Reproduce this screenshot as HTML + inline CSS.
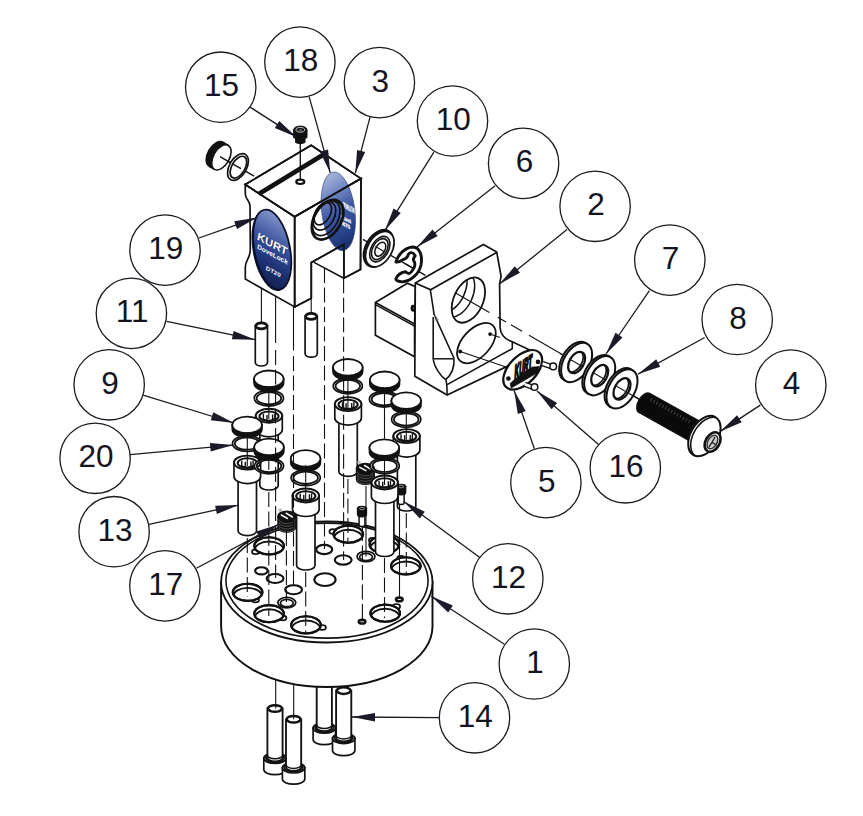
<!DOCTYPE html>
<html><head><meta charset="utf-8"><title>Exploded view</title>
<style>html,body{margin:0;padding:0;background:#fff}svg{display:block;font-family:"Liberation Sans",Arial,sans-serif}</style>
</head><body>
<svg width="863" height="816" viewBox="0 0 863 816">
<rect width="863" height="816" fill="#fff"/>
<defs>
<linearGradient id="g19" x1="0.7" y1="0" x2="0.3" y2="1">
<stop offset="0" stop-color="#8c9ccc"/><stop offset="0.2" stop-color="#6278b6"/><stop offset="0.45" stop-color="#334c98"/><stop offset="0.75" stop-color="#1b2e6c"/><stop offset="1" stop-color="#132052"/></linearGradient>
<linearGradient id="g18" x1="0.4" y1="0" x2="0.6" y2="1">
<stop offset="0" stop-color="#a9b6da"/><stop offset="0.2" stop-color="#7f93c8"/><stop offset="0.5" stop-color="#3f5aa6"/><stop offset="0.8" stop-color="#263f88"/><stop offset="1" stop-color="#1a2c68"/></linearGradient>
</defs>
<path d="M245.3 184.5 L245.3 194 C245.6 200 249.8 200 250 206 L250.3 250.5 C250 258 245.5 260 245.3 267 L245.3 279.1 L294.7 306.9 L294.7 216.8 Z" fill="#fff" stroke="#111" stroke-width="1.68" />
<path d="M245.3 184.5 L311.2 145.2 L361 178.6 L294.7 216.8 Z" fill="#fff" stroke="#111" stroke-width="1.68" />
<path d="M294.7 216.8 L361 178.6 L360.5 269.5 L343.9 278.2 L343.9 244.3 L311.3 262.6 L311.3 298.2 L294.7 306.9 Z" fill="#fff" stroke="#111" stroke-width="1.68" />
<g transform="rotate(-7.3 338.3 211.3)"><ellipse cx="338.3" cy="211.3" rx="16.6" ry="39.6" fill="url(#g18)" stroke="#2a3f80" stroke-width="0.6"/></g>
<g fill="#fff" stroke="#fff" stroke-width="0.35" font-weight="bold" font-style="italic"><text transform="translate(354.6,213.6) skewY(28) scale(-1,1)" font-size="7.5" textLength="11.5" lengthAdjust="spacingAndGlyphs">KURT</text><text transform="translate(351,223.6) skewY(28) scale(-1,1)" font-size="5" textLength="10" lengthAdjust="spacingAndGlyphs">DoveLock</text><text transform="translate(350,229) skewY(28) scale(-1,1)" font-size="5" textLength="8.5" lengthAdjust="spacingAndGlyphs">DT20</text></g>
<path d="M294.7 216.8 L361 178.6 L360.5 269.5 L343.9 278.2 L343.9 244.3 L311.3 262.6 L311.3 298.2 L294.7 306.9 Z" fill="none" stroke="#111" stroke-width="1.68" />
<path d="M314 262.4 L343.9 278.2" fill="none" stroke="#111" stroke-width="1.57" />
<path d="M245.3 184.5 L311.2 145.2 L361 178.6 L294.7 216.8 Z" fill="none" stroke="#111" stroke-width="1.68" />
<path d="M258.8 193.9 L325.2 153.4" fill="none" stroke="#111" stroke-width="4.7" />
<ellipse cx="300.3" cy="181.8" rx="4" ry="2.2" fill="none" stroke="#111" stroke-width="2.24" />
<path d="M300.3 143 L300.3 180" fill="none" stroke="#111" stroke-width="1.34" />
<path d="M293.6 130 L293.6 137.6 Q300.3 141.5 307 137.6 L307 130 Z" fill="#111" stroke="#111" stroke-width="1"/>
<path d="M295.6 137 L295.6 142.6 Q300.3 145 305 142.6 L305 137 Z" fill="#111" stroke="#111" stroke-width="1"/>
<ellipse cx="300.3" cy="130" rx="6.7" ry="3.9" fill="#111" stroke="#111" stroke-width="1" />
<ellipse cx="300.3" cy="129.8" rx="4.3" ry="2.3" fill="#111" stroke="#ddd" stroke-width="0.9" />
<ellipse cx="300.3" cy="130" rx="2.2" ry="1.1" fill="#555" stroke="none" stroke-width="0" />
<ellipse cx="327.6" cy="219.7" rx="13.4" ry="21.5" fill="none" stroke="#111" stroke-width="2.69" transform="rotate(30 327.6 219.7)" />
<ellipse cx="326.1" cy="218.2" rx="11.7" ry="18.9" fill="none" stroke="#111" stroke-width="1.68" transform="rotate(30 326.1 218.2)" />
<ellipse cx="324.4" cy="215.9" rx="9.8" ry="15.3" fill="none" stroke="#111" stroke-width="1.68" transform="rotate(30 324.4 215.9)" />
<ellipse cx="322.8" cy="213.7" rx="7.3" ry="12.2" fill="none" stroke="#111" stroke-width="1.68" transform="rotate(30 322.8 213.7)" />
<g transform="rotate(-11 272.8 249.5)"><ellipse cx="271.3" cy="250" rx="18.0" ry="40.8" fill="#0c1230" stroke="#0c1230" stroke-width="1.2"/><ellipse cx="272.2" cy="249.5" rx="17.8" ry="40.6" fill="url(#g19)" stroke="#0a0f28" stroke-width="1.7"/></g>
<g font-weight="bold" font-style="italic"><g fill="#0c1230" opacity="0.8"><text transform="translate(257.8,240.4) skewY(28)" font-size="11.5" textLength="30" lengthAdjust="spacingAndGlyphs">KURT</text></g><g fill="#fff"><text transform="translate(257.2,239.8) skewY(28)" font-size="11.5" textLength="30" lengthAdjust="spacingAndGlyphs">KURT</text><text transform="translate(257.2,248.6) skewY(28)" font-size="7" textLength="30.5" lengthAdjust="spacingAndGlyphs">DoveLock</text><text transform="translate(265.8,269.8) skewY(28)" font-size="6" textLength="14.7" lengthAdjust="spacingAndGlyphs">DT20</text></g></g>
<path d="M220 156.7 L254.1 176.2" fill="none" stroke="#111" stroke-width="1.34" />
<ellipse cx="215.9" cy="154.2" rx="7.9" ry="13.8" fill="#111" stroke="#111" stroke-width="1.57" transform="rotate(30 215.9 154.2)" />
<path d="M228.3 145.4 L222.8 142.2 L209 166.2 L214.5 169.4" fill="#111" stroke="none" stroke-width="0" />
<path d="M228.3 145.4 L222.8 142.2" fill="none" stroke="#111" stroke-width="1.57" />
<path d="M214.5 169.4 L209 166.2" fill="none" stroke="#111" stroke-width="1.57" />
<ellipse cx="221.4" cy="157.4" rx="7.9" ry="13.8" fill="#fff" stroke="#111" stroke-width="1.57" transform="rotate(30 221.4 157.4)" />
<path d="M220 156.7 L232 163.6" fill="none" stroke="#111" stroke-width="1.34" />
<ellipse cx="238" cy="167" rx="8.6" ry="14.6" fill="#fff" stroke="#111" stroke-width="1.68" transform="rotate(30 238 167)" />
<ellipse cx="238.4" cy="167.2" rx="6.6" ry="12" fill="#fff" stroke="#111" stroke-width="1.68" transform="rotate(30 238.4 167.2)" />
<path d="M232 163.6 L241 168.7" fill="none" stroke="#111" stroke-width="1.34" />
<path d="M362.9 239.3 L425.4 275.4" fill="none" stroke="#111" stroke-width="1.34" />
<ellipse cx="378.6" cy="248.4" rx="12.6" ry="19.8" fill="#fff" stroke="#111" stroke-width="2.46" transform="rotate(30 378.6 248.4)" />
<ellipse cx="379.8" cy="249.1" rx="12.2" ry="19.2" fill="#fff" stroke="#111" stroke-width="1.68" transform="rotate(30 379.8 249.1)" />
<ellipse cx="379.8" cy="249.1" rx="8.6" ry="13.8" fill="none" stroke="#111" stroke-width="1.57" transform="rotate(30 379.8 249.1)" />
<ellipse cx="379.8" cy="249.1" rx="7" ry="11.4" fill="none" stroke="#111" stroke-width="1.57" transform="rotate(30 379.8 249.1)" />
<ellipse cx="380.3" cy="249.2" rx="4.6" ry="7.6" fill="none" stroke="#111" stroke-width="1.57" transform="rotate(30 380.3 249.2)" />
<path d="M375.5 246.6 L384.5 251.8" fill="none" stroke="#111" stroke-width="1.1" />
<path d="M396 261.8 C398.6 253.9 405 247.4 412.9 247 C419.9 247.4 422.7 255.8 421 265 C418.9 274.3 410.6 281.3 402.3 281.9 C398.6 281.9 395.8 280.3 395.8 278.9 C397.2 275.2 401.3 272.5 405.5 271.7 C408.3 274.3 410.6 274.3 412.9 269.7 C415.2 266.9 415.2 263.2 414.3 261.8 C412 259.5 414.3 257.2 415.2 255.8 C413.4 252.1 409.7 251.6 408.3 254.4 C407.8 256.7 406.9 258.6 403.2 259.5 C400.4 261.3 397.6 263.2 396 261.8 Z" fill="#fff" stroke="#111" stroke-width="2.91" />
<path d="M398.6 261.3 C401.3 254.9 406.9 249.8 412.9 249.3 C418 249.8 420.3 256.7 418.9 264.6 C417.1 272.5 410.6 278.5 403.2 279.9" fill="none" stroke="none" stroke-width="0" />
<path d="M404.5 263.3 L414 268.8" fill="none" stroke="#111" stroke-width="1.1" />
<path d="M375.4 302.5 L407.4 283.3 L415.5 286.6 L414.6 324.1 L414.6 356.8 L375.4 335.2 Z" fill="#fff" stroke="#111" stroke-width="1.68" />
<path d="M375.4 302.5 L414.6 324.1" fill="none" stroke="#111" stroke-width="1.68" />
<path d="M375.4 304.7 L414.6 326.2" fill="none" stroke="#111" stroke-width="1.46" />
<ellipse cx="413.2" cy="308.2" rx="1.4" ry="2.2" fill="none" stroke="#111" stroke-width="2.46" />
<path d="M415.3 283 L483.4 244.5 L496.7 252 L501.1 276.3 L499.6 283.7 L500.1 327.8 C500.6 334.8 505.4 339.6 512.3 341.7 L529.7 350.1 L529.7 355.6 L447.1 395 L414.8 376.2 Z" fill="#fff" stroke="#111" stroke-width="1.68" />
<path d="M415.3 283 L430.6 289.7 L496.7 252.4" fill="none" stroke="#111" stroke-width="1.68" />
<path d="M430.6 289.7 L430.4 290 L434.1 314.3 L454 358.2" fill="none" stroke="#111" stroke-width="1.57" />
<path d="M433.2 317.1 L433.2 359.5" fill="none" stroke="#111" stroke-width="1.57" />
<path d="M433.2 358.8 L453.5 358.8" fill="none" stroke="#111" stroke-width="1.46" />
<path d="M433.2 359.5 C434.5 367.9 440.8 376.2 445.7 379.7 C446.8 381.8 447.1 383.2 447.1 395" fill="none" stroke="#111" stroke-width="1.57" />
<path d="M454 358.2 C454.7 367.9 450.5 375.5 445.7 379.7" fill="none" stroke="#111" stroke-width="1.57" />
<path d="M433.6 317.1 L435.2 315.7 L438.4 319.9 L433.6 319.9" fill="none" stroke="#888" stroke-width="0.8" />
<path d="M447.1 384.6 L512.3 348.7" fill="none" stroke="#111" stroke-width="1.57" />
<path d="M512.3 341.7 L512.3 349" fill="none" stroke="#111" stroke-width="1.57" />
<clipPath id="ch1"><ellipse cx="468.4" cy="300.1" rx="14.6" ry="24" transform="rotate(25 468.4 300.1)"/></clipPath>
<g clip-path="url(#ch1)">
<ellipse cx="458" cy="294.3" rx="14.6" ry="24" fill="none" stroke="#111" stroke-width="1.46" transform="rotate(25 458 294.3)" />
<ellipse cx="450.4" cy="289.7" rx="14.6" ry="24" fill="none" stroke="#111" stroke-width="1.46" transform="rotate(25 450.4 289.7)" />
</g>
<ellipse cx="468.4" cy="300.1" rx="14.6" ry="24" fill="none" stroke="#111" stroke-width="1.79" transform="rotate(25 468.4 300.1)" />
<path d="M455.6 292.9 L489.4 312.4" fill="none" stroke="#111" stroke-width="1.1" />
<path d="M497.7 317.2 L506.1 322.1" fill="none" stroke="#111" stroke-width="1.1" />
<path d="M510.9 324.8 L522.1 331.3" fill="none" stroke="#111" stroke-width="1.1" />
<path d="M529 335.3 L640 399.5" fill="none" stroke="#111" stroke-width="1.1" />
<ellipse cx="476.4" cy="343.1" rx="24.2" ry="13.9" fill="none" stroke="#111" stroke-width="1.79" transform="rotate(-47.4 476.4 343.1)" />
<circle cx="490.1" cy="334.1" r="1.9" fill="#111"/><circle cx="460.2" cy="351.5" r="1.9" fill="#111"/>
<path d="M460.2 351.5 L506 367" fill="none" stroke="#111" stroke-width="1.1" />
<path d="M490.1 334.1 L500 337.6" fill="none" stroke="#111" stroke-width="1.1" />
<ellipse cx="522.7" cy="369.8" rx="24" ry="13.8" fill="#fff" stroke="#111" stroke-width="2.24" transform="rotate(-46 522.7 369.8)" />
<text transform="translate(514.6,379.6) skewY(-33)" font-size="20" font-weight="bold" font-style="italic" fill="#111" stroke="#111" stroke-width="2.6" stroke-linejoin="round" textLength="17.5" lengthAdjust="spacingAndGlyphs">KURT</text>
<path d="M510.2 383.4 L515.3 378.9 L531.7 367.2 L539.3 366.6 L537.3 372.8 L511.2 388 Z" fill="#111" stroke="#111" stroke-width="0.8" />
<circle cx="538" cy="361.9" r="2.3" fill="#111"/><circle cx="508.4" cy="378.5" r="2.3" fill="#111"/>
<line x1="542.6" y1="363.6" x2="552" y2="366.9" stroke="#111" stroke-width="5.4" stroke-linecap="butt"/>
<line x1="542.6" y1="363.6" x2="552" y2="366.9" stroke="#fff" stroke-width="2.8" stroke-linecap="butt"/>
<circle cx="553.2" cy="366.4" r="3.3" fill="#fff" stroke="#111" stroke-width="1.5"/>
<line x1="524.8" y1="384.3" x2="533" y2="387.4" stroke="#111" stroke-width="5.4" stroke-linecap="butt"/>
<line x1="524.8" y1="384.3" x2="533" y2="387.4" stroke="#fff" stroke-width="2.8" stroke-linecap="butt"/>
<circle cx="534.5" cy="387.0" r="3.3" fill="#fff" stroke="#111" stroke-width="1.5"/>
<ellipse cx="574.7" cy="361.4" rx="13" ry="21.4" fill="#fff" stroke="#111" stroke-width="2.02" transform="rotate(30 574.7 361.4)" />
<path d="M587.3 344 L585.4 342.9 L564 379.9 L565.9 381" fill="#fff" stroke="none" stroke-width="0" />
<path d="M587.3 344 L585.4 342.9" fill="none" stroke="#111" stroke-width="2.02" />
<path d="M565.9 381 L564 379.9" fill="none" stroke="#111" stroke-width="2.02" />
<ellipse cx="576.6" cy="362.5" rx="13" ry="21.4" fill="#fff" stroke="#111" stroke-width="2.02" transform="rotate(30 576.6 362.5)" />
<clipPath id="wc576"><ellipse cx="576.6" cy="362.5" rx="7.2" ry="11.6" transform="rotate(30 576.6 362.5)"/></clipPath>
<g clip-path="url(#wc576)">
<ellipse cx="574.7" cy="361.4" rx="7.2" ry="11.6" fill="none" stroke="#111" stroke-width="1.68" transform="rotate(30 574.7 361.4)" />
<path d="M564.6 356.2 L588.6 370.1" fill="none" stroke="#111" stroke-width="1.1" />
</g>
<ellipse cx="576.6" cy="362.5" rx="7.2" ry="11.6" fill="none" stroke="#111" stroke-width="2.24" transform="rotate(30 576.6 362.5)" />
<ellipse cx="597.8" cy="374.6" rx="13" ry="21.4" fill="#fff" stroke="#111" stroke-width="2.02" transform="rotate(30 597.8 374.6)" />
<path d="M610.4 357.2 L608.5 356.1 L587.1 393.1 L589 394.2" fill="#fff" stroke="none" stroke-width="0" />
<path d="M610.4 357.2 L608.5 356.1" fill="none" stroke="#111" stroke-width="2.02" />
<path d="M589 394.2 L587.1 393.1" fill="none" stroke="#111" stroke-width="2.02" />
<ellipse cx="599.7" cy="375.7" rx="13" ry="21.4" fill="#fff" stroke="#111" stroke-width="2.02" transform="rotate(30 599.7 375.7)" />
<clipPath id="wc599"><ellipse cx="599.7" cy="375.7" rx="7.2" ry="11.6" transform="rotate(30 599.7 375.7)"/></clipPath>
<g clip-path="url(#wc599)">
<ellipse cx="597.8" cy="374.6" rx="7.2" ry="11.6" fill="none" stroke="#111" stroke-width="1.68" transform="rotate(30 597.8 374.6)" />
<path d="M587.7 369.5 L611.7 383.4" fill="none" stroke="#111" stroke-width="1.1" />
</g>
<ellipse cx="599.7" cy="375.7" rx="7.2" ry="11.6" fill="none" stroke="#111" stroke-width="2.24" transform="rotate(30 599.7 375.7)" />
<ellipse cx="620.1" cy="387.8" rx="13" ry="21.4" fill="#fff" stroke="#111" stroke-width="2.02" transform="rotate(30 620.1 387.8)" />
<path d="M632.7 370.4 L630.8 369.3 L609.4 406.3 L611.3 407.4" fill="#fff" stroke="none" stroke-width="0" />
<path d="M632.7 370.4 L630.8 369.3" fill="none" stroke="#111" stroke-width="2.02" />
<path d="M611.3 407.4 L609.4 406.3" fill="none" stroke="#111" stroke-width="2.02" />
<ellipse cx="622" cy="388.9" rx="13" ry="21.4" fill="#fff" stroke="#111" stroke-width="2.02" transform="rotate(30 622 388.9)" />
<clipPath id="wc622"><ellipse cx="622.0" cy="388.9" rx="7.2" ry="11.6" transform="rotate(30 622.0 388.9)"/></clipPath>
<g clip-path="url(#wc622)">
<ellipse cx="620.1" cy="387.8" rx="7.2" ry="11.6" fill="none" stroke="#111" stroke-width="1.68" transform="rotate(30 620.1 387.8)" />
<path d="M610 382.4 L634 396.3" fill="none" stroke="#111" stroke-width="1.1" />
</g>
<ellipse cx="622" cy="388.9" rx="7.2" ry="11.6" fill="none" stroke="#111" stroke-width="2.24" transform="rotate(30 622 388.9)" />
<path d="M560 353.5 L562 354.7" fill="none" stroke="#111" stroke-width="1.1" />
<path d="M629 393.4 L642 400.9" fill="none" stroke="#111" stroke-width="1.1" />
<ellipse cx="644.5" cy="403" rx="6.3" ry="11" fill="#0a0a0a" stroke="#111" stroke-width="1.34" transform="rotate(30 644.5 403)" />
<path d="M702.1 422.7 L650 393.5 L639 412.5 L691.1 441.7" fill="#0a0a0a" stroke="none" stroke-width="0" />
<path d="M702.1 422.7 L650 393.5" fill="none" stroke="#111" stroke-width="1.34" />
<path d="M691.1 441.7 L639 412.5" fill="none" stroke="#111" stroke-width="1.34" />
<ellipse cx="696.6" cy="432.2" rx="6.3" ry="11" fill="#0a0a0a" stroke="#111" stroke-width="1.34" transform="rotate(30 696.6 432.2)" />
<line x1="652" y1="398.1" x2="650.4" y2="401.3" stroke="#777" stroke-width="0.6"/>
<line x1="654.9" y1="399.8" x2="653.3" y2="403" stroke="#777" stroke-width="0.6"/>
<line x1="657.8" y1="401.5" x2="656.2" y2="404.7" stroke="#777" stroke-width="0.6"/>
<line x1="660.8" y1="403.2" x2="659.2" y2="406.4" stroke="#777" stroke-width="0.6"/>
<line x1="663.7" y1="404.9" x2="662.1" y2="408.1" stroke="#777" stroke-width="0.6"/>
<line x1="666.6" y1="406.5" x2="665" y2="409.7" stroke="#777" stroke-width="0.6"/>
<line x1="669.5" y1="408.2" x2="667.9" y2="411.4" stroke="#777" stroke-width="0.6"/>
<line x1="672.5" y1="409.9" x2="670.9" y2="413.1" stroke="#777" stroke-width="0.6"/>
<line x1="675.4" y1="411.6" x2="673.8" y2="414.8" stroke="#777" stroke-width="0.6"/>
<line x1="678.3" y1="413.3" x2="676.7" y2="416.5" stroke="#777" stroke-width="0.6"/>
<line x1="681.2" y1="415" x2="679.6" y2="418.2" stroke="#777" stroke-width="0.6"/>
<line x1="684.2" y1="416.7" x2="682.6" y2="419.9" stroke="#777" stroke-width="0.6"/>
<line x1="687.1" y1="418.4" x2="685.5" y2="421.6" stroke="#777" stroke-width="0.6"/>
<line x1="690" y1="420.1" x2="688.4" y2="423.3" stroke="#777" stroke-width="0.6"/>
<ellipse cx="704.4" cy="436.1" rx="13.8" ry="21.9" fill="#fff" stroke="#111" stroke-width="2.02" transform="rotate(30 704.4 436.1)" />
<clipPath id="bh"><ellipse cx="704.4" cy="436.1" rx="13.8" ry="21.9" transform="rotate(30 704.4 436.1)"/></clipPath><g clip-path="url(#bh)">
<ellipse cx="706.9" cy="437.5" rx="13.8" ry="21.9" fill="none" stroke="#111" stroke-width="1.57" transform="rotate(30 706.9 437.5)" />
</g>
<ellipse cx="712.6" cy="442" rx="7" ry="10.4" fill="#fff" stroke="#111" stroke-width="2.58" transform="rotate(30 712.6 442)" />
<ellipse cx="712.4" cy="442" rx="4.6" ry="7.4" fill="#ccc" stroke="#333" stroke-width="1.46" transform="rotate(30 712.4 442)" />
<path d="M712 442.4 L715 437 M712 442.4 L716.4 445 M712 442.4 L708.8 447.2" stroke="#222" stroke-width="1.3" fill="none"/>
<path d="M255.3 325.9 L255.3 362.6 A6.1 3.4 0 0 0 267.5 362.6 L267.5 325.9 Z" fill="#fff" stroke="#111" stroke-width="1.68"/>
<ellipse cx="261.4" cy="325.9" rx="5.6" ry="3" fill="#fff" stroke="#111" stroke-width="2.69" />
<path d="M305.1 316.4 L305.1 353.8 A6.1 3.4 0 0 0 317.3 353.8 L317.3 316.4 Z" fill="#fff" stroke="#111" stroke-width="1.68"/>
<ellipse cx="311.2" cy="316.4" rx="5.6" ry="3" fill="#fff" stroke="#111" stroke-width="2.69" />
<path d="M313.1 728 L313.1 739.5 A11.2 5.2 0 0 0 335.5 739.5 L335.5 728 Z" fill="#fff" stroke="#111" stroke-width="1.68"/>
<ellipse cx="324.3" cy="728" rx="11.2" ry="5.2" fill="#fff" stroke="#111" stroke-width="1.68" />
<ellipse cx="324.3" cy="727.7" rx="9.3" ry="4.3" fill="#fff" stroke="#111" stroke-width="1.79" />
<path d="M316.7 684 L316.7 727.5 A7.6 3.6 0 0 0 331.9 727.5 L331.9 684 Z" fill="#fff" stroke="#111" stroke-width="1.85"/>
<path d="M316.7 725 A7.6 3.6 0 0 0 331.9 725" fill="none" stroke="#111" stroke-width="1.5"/>
<path d="M332.5 738.4 L332.5 750.5 A11.2 5.2 0 0 0 354.9 750.5 L354.9 738.4 Z" fill="#fff" stroke="#111" stroke-width="1.68"/>
<ellipse cx="343.7" cy="738.4" rx="11.2" ry="5.2" fill="#fff" stroke="#111" stroke-width="1.68" />
<ellipse cx="343.7" cy="738.1" rx="9.3" ry="4.3" fill="#fff" stroke="#111" stroke-width="1.79" />
<path d="M336.1 690.6 L336.1 737.9 A7.6 3.6 0 0 0 351.3 737.9 L351.3 690.6 Z" fill="#fff" stroke="#111" stroke-width="1.85"/>
<path d="M336.1 735.4 A7.6 3.6 0 0 0 351.3 735.4" fill="none" stroke="#111" stroke-width="1.5"/>
<ellipse cx="343.7" cy="690.6" rx="6.9" ry="3.3" fill="#fff" stroke="#111" stroke-width="2.46" />
<path d="M263.8 758.2 L263.8 769.5 A11.2 5.2 0 0 0 286.2 769.5 L286.2 758.2 Z" fill="#fff" stroke="#111" stroke-width="1.68"/>
<ellipse cx="275" cy="758.2" rx="11.2" ry="5.2" fill="#fff" stroke="#111" stroke-width="1.68" />
<ellipse cx="275" cy="757.9" rx="9.3" ry="4.3" fill="#fff" stroke="#111" stroke-width="1.79" />
<path d="M267.4 708.5 L267.4 757.7 A7.6 3.6 0 0 0 282.6 757.7 L282.6 708.5 Z" fill="#fff" stroke="#111" stroke-width="1.85"/>
<path d="M267.4 755.2 A7.6 3.6 0 0 0 282.6 755.2" fill="none" stroke="#111" stroke-width="1.5"/>
<ellipse cx="275" cy="708.5" rx="6.9" ry="3.3" fill="#fff" stroke="#111" stroke-width="2.46" />
<path d="M282.4 767.8 L282.4 779 A11.2 5.2 0 0 0 304.8 779 L304.8 767.8 Z" fill="#fff" stroke="#111" stroke-width="1.68"/>
<ellipse cx="293.6" cy="767.8" rx="11.2" ry="5.2" fill="#fff" stroke="#111" stroke-width="1.68" />
<ellipse cx="293.6" cy="767.5" rx="9.3" ry="4.3" fill="#fff" stroke="#111" stroke-width="1.79" />
<path d="M286 719.3 L286 767.3 A7.6 3.6 0 0 0 301.2 767.3 L301.2 719.3 Z" fill="#fff" stroke="#111" stroke-width="1.85"/>
<path d="M286 764.8 A7.6 3.6 0 0 0 301.2 764.8" fill="none" stroke="#111" stroke-width="1.5"/>
<ellipse cx="293.6" cy="719.3" rx="6.9" ry="3.3" fill="#fff" stroke="#111" stroke-width="2.46" />
<path d="M275.7 676 L275.7 708.5" fill="none" stroke="#111" stroke-width="1.1" />
<path d="M293.7 682 L293.7 719.3" fill="none" stroke="#111" stroke-width="1.1" />
<path d="M221.1 582 L221.1 626.5 A105.7 60.5 0 0 0 432.5 626.5 L432.5 582 Z" fill="#fff" stroke="#111" stroke-width="1.95"/>
<ellipse cx="326.8" cy="582" rx="105.7" ry="60.5" fill="#fff" stroke="#111" stroke-width="1.79" />
<ellipse cx="327" cy="580.6" rx="101.1" ry="57.5" fill="none" stroke="#111" stroke-width="1.57" />
<ellipse cx="255.6" cy="551.8" rx="3.6" ry="2.4" fill="#fff" stroke="#111" stroke-width="1.68" />
<ellipse cx="269.1" cy="545.9" rx="14.8" ry="8.6" fill="#fff" stroke="#111" stroke-width="2.13" />
<clipPath id="bh269_545"><ellipse cx="269.1" cy="545.9" rx="14.8" ry="8.6"/></clipPath><g clip-path="url(#bh269_545)">
<ellipse cx="269.1" cy="550.1" rx="14.4" ry="8.6" fill="none" stroke="#111" stroke-width="1.9" />
</g>
<ellipse cx="269.1" cy="545.9" rx="14.8" ry="8.6" fill="none" stroke="#111" stroke-width="2.13" />
<ellipse cx="333" cy="531.6" rx="3.6" ry="2.4" fill="#fff" stroke="#111" stroke-width="1.68" />
<ellipse cx="348.3" cy="534.2" rx="14.8" ry="8.6" fill="#fff" stroke="#111" stroke-width="2.13" />
<clipPath id="bh348_534"><ellipse cx="348.3" cy="534.2" rx="14.8" ry="8.6"/></clipPath><g clip-path="url(#bh348_534)">
<ellipse cx="348.3" cy="538.4" rx="14.4" ry="8.6" fill="none" stroke="#111" stroke-width="1.9" />
</g>
<ellipse cx="348.3" cy="534.2" rx="14.8" ry="8.6" fill="none" stroke="#111" stroke-width="2.13" />
<ellipse cx="372.5" cy="540.3" rx="3.6" ry="2.4" fill="#fff" stroke="#111" stroke-width="1.68" />
<ellipse cx="384.4" cy="544.5" rx="14.8" ry="8.6" fill="#fff" stroke="#111" stroke-width="2.13" />
<clipPath id="bh384_544"><ellipse cx="384.4" cy="544.5" rx="14.8" ry="8.6"/></clipPath><g clip-path="url(#bh384_544)">
<ellipse cx="384.4" cy="548.7" rx="14.4" ry="8.6" fill="none" stroke="#111" stroke-width="1.9" />
</g>
<ellipse cx="384.4" cy="544.5" rx="14.8" ry="8.6" fill="none" stroke="#111" stroke-width="2.13" />
<ellipse cx="400.8" cy="558.3" rx="3.6" ry="2.4" fill="#fff" stroke="#111" stroke-width="1.68" />
<ellipse cx="405.8" cy="565.9" rx="14.8" ry="8.6" fill="#fff" stroke="#111" stroke-width="2.13" />
<clipPath id="bh405_565"><ellipse cx="405.8" cy="565.9" rx="14.8" ry="8.6"/></clipPath><g clip-path="url(#bh405_565)">
<ellipse cx="405.8" cy="570.1" rx="14.4" ry="8.6" fill="none" stroke="#111" stroke-width="1.9" />
</g>
<ellipse cx="405.8" cy="565.9" rx="14.8" ry="8.6" fill="none" stroke="#111" stroke-width="2.13" />
<ellipse cx="396.5" cy="606.4" rx="3.6" ry="2.4" fill="#fff" stroke="#111" stroke-width="1.68" />
<ellipse cx="385.2" cy="613.2" rx="14.8" ry="8.6" fill="#fff" stroke="#111" stroke-width="2.13" />
<clipPath id="bh385_613"><ellipse cx="385.2" cy="613.2" rx="14.8" ry="8.6"/></clipPath><g clip-path="url(#bh385_613)">
<ellipse cx="385.2" cy="617.4" rx="14.4" ry="8.6" fill="none" stroke="#111" stroke-width="1.9" />
</g>
<ellipse cx="385.2" cy="613.2" rx="14.8" ry="8.6" fill="none" stroke="#111" stroke-width="2.13" />
<ellipse cx="322.3" cy="627.4" rx="3.6" ry="2.4" fill="#fff" stroke="#111" stroke-width="1.68" />
<ellipse cx="306" cy="624.9" rx="14.8" ry="8.6" fill="#fff" stroke="#111" stroke-width="2.13" />
<clipPath id="bh306_624"><ellipse cx="306.0" cy="624.9" rx="14.8" ry="8.6"/></clipPath><g clip-path="url(#bh306_624)">
<ellipse cx="306" cy="629.1" rx="14.4" ry="8.6" fill="none" stroke="#111" stroke-width="1.9" />
</g>
<ellipse cx="306" cy="624.9" rx="14.8" ry="8.6" fill="none" stroke="#111" stroke-width="2.13" />
<ellipse cx="282.8" cy="618" rx="3.6" ry="2.4" fill="#fff" stroke="#111" stroke-width="1.68" />
<ellipse cx="269.1" cy="613.7" rx="14.8" ry="8.6" fill="#fff" stroke="#111" stroke-width="2.13" />
<clipPath id="bh269_613"><ellipse cx="269.1" cy="613.7" rx="14.8" ry="8.6"/></clipPath><g clip-path="url(#bh269_613)">
<ellipse cx="269.1" cy="617.9" rx="14.4" ry="8.6" fill="none" stroke="#111" stroke-width="1.9" />
</g>
<ellipse cx="269.1" cy="613.7" rx="14.8" ry="8.6" fill="none" stroke="#111" stroke-width="2.13" />
<ellipse cx="255.4" cy="600" rx="3.6" ry="2.4" fill="#fff" stroke="#111" stroke-width="1.68" />
<ellipse cx="247.6" cy="592.3" rx="14.8" ry="8.6" fill="#fff" stroke="#111" stroke-width="2.13" />
<clipPath id="bh247_592"><ellipse cx="247.6" cy="592.3" rx="14.8" ry="8.6"/></clipPath><g clip-path="url(#bh247_592)">
<ellipse cx="247.6" cy="596.5" rx="14.4" ry="8.6" fill="none" stroke="#111" stroke-width="1.9" />
</g>
<ellipse cx="247.6" cy="592.3" rx="14.8" ry="8.6" fill="none" stroke="#111" stroke-width="2.13" />
<ellipse cx="261.4" cy="570.8" rx="6.3" ry="3.6" fill="#fff" stroke="#111" stroke-width="2.13" />
<ellipse cx="275.1" cy="578.5" rx="8.4" ry="4.5" fill="#fff" stroke="#111" stroke-width="2.13" />
<ellipse cx="293.6" cy="589.7" rx="8.4" ry="4.5" fill="#fff" stroke="#111" stroke-width="2.13" />
<ellipse cx="324.2" cy="549.5" rx="8" ry="4.6" fill="#fff" stroke="#111" stroke-width="2.13" />
<ellipse cx="343.2" cy="559.9" rx="8.4" ry="4.7" fill="#fff" stroke="#111" stroke-width="2.13" />
<ellipse cx="325" cy="579.6" rx="10.6" ry="6.4" fill="#fff" stroke="#111" stroke-width="2.13" />
<ellipse cx="286.8" cy="602.6" rx="9" ry="5.2" fill="#fff" stroke="#111" stroke-width="1.68" />
<ellipse cx="286.8" cy="603.1" rx="6.4" ry="3.6" fill="none" stroke="#111" stroke-width="1.68" />
<ellipse cx="366" cy="556.5" rx="9" ry="5.2" fill="#fff" stroke="#111" stroke-width="1.68" />
<ellipse cx="366" cy="557" rx="6.4" ry="3.6" fill="none" stroke="#111" stroke-width="1.68" />
<ellipse cx="399.3" cy="599.4" rx="3.3" ry="1.8" fill="#fff" stroke="#111" stroke-width="2.58" />
<ellipse cx="362.1" cy="621.7" rx="3.3" ry="1.8" fill="#fff" stroke="#111" stroke-width="2.58" />
<path d="M338.9 418.1 L338.9 471.8 A9.2 4.6 0 0 0 357.3 471.8 L357.3 418.1 Z" fill="#fff" stroke="#111" stroke-width="1.68"/>
<path d="M334.8 404.1 L334.8 418.1 A13.3 7 0 0 0 361.4 418.1 L361.4 404.1 Z" fill="#fff" stroke="#111" stroke-width="1.68"/>
<ellipse cx="348.1" cy="404.1" rx="13.3" ry="7" fill="#fff" stroke="#111" stroke-width="1.9" />
<ellipse cx="348.1" cy="404.6" rx="9.6" ry="4.8" fill="none" stroke="#111" stroke-width="2.02" />
<path d="M342.5 402.3 L342.5 407.5 L346.1 408.9 L351.7 408.3 L353.9 406.7 L353.9 402.1 M346.1 408.9 L346.1 403.3 M351.7 408.3 L351.7 402.9" fill="none" stroke="#111" stroke-width="1.4"/>
<path d="M333.2 386 A14.6 7.9 0 1 0 362.4 386 A14.6 7.9 0 1 0 333.2 386 Z M335.5 386 A12.3 6.1 0 1 0 360.1 386 A12.3 6.1 0 1 0 335.5 386 Z" fill="#fff" fill-rule="evenodd" stroke="#111" stroke-width="1.7"/>
<path d="M333 367.3 L333 371.6 A14.8 8.3 0 0 0 362.6 371.6 L362.6 367.3 Z" fill="#111" stroke="#111" stroke-width="1.7"/>
<ellipse cx="347.8" cy="367.3" rx="14.8" ry="8.3" fill="#fff" stroke="#111" stroke-width="1.79" />
<path d="M259.8 429.8 L259.8 485.4 A9.2 4.6 0 0 0 278.2 485.4 L278.2 429.8 Z" fill="#fff" stroke="#111" stroke-width="1.68"/>
<path d="M255.7 415.8 L255.7 429.8 A13.3 7 0 0 0 282.3 429.8 L282.3 415.8 Z" fill="#fff" stroke="#111" stroke-width="1.68"/>
<ellipse cx="269" cy="415.8" rx="13.3" ry="7" fill="#fff" stroke="#111" stroke-width="1.9" />
<ellipse cx="269" cy="416.3" rx="9.6" ry="4.8" fill="none" stroke="#111" stroke-width="2.02" />
<path d="M263.4 414 L263.4 419.2 L267 420.6 L272.6 420 L274.8 418.4 L274.8 413.8 M267 420.6 L267 415 M272.6 420 L272.6 414.6" fill="none" stroke="#111" stroke-width="1.4"/>
<path d="M254.3 398.2 A14.6 7.9 0 1 0 283.5 398.2 A14.6 7.9 0 1 0 254.3 398.2 Z M256.6 398.2 A12.3 6.1 0 1 0 281.2 398.2 A12.3 6.1 0 1 0 256.6 398.2 Z" fill="#fff" fill-rule="evenodd" stroke="#111" stroke-width="1.7"/>
<path d="M254 378.8 L254 383.1 A14.8 8.3 0 0 0 283.6 383.1 L283.6 378.8 Z" fill="#111" stroke="#111" stroke-width="1.7"/>
<ellipse cx="268.8" cy="378.8" rx="14.8" ry="8.3" fill="#fff" stroke="#111" stroke-width="1.79" />
<path d="M369.4 399.2 A14.6 7.9 0 1 0 398.6 399.2 A14.6 7.9 0 1 0 369.4 399.2 Z M371.7 399.2 A12.3 6.1 0 1 0 396.3 399.2 A12.3 6.1 0 1 0 371.7 399.2 Z" fill="#fff" fill-rule="evenodd" stroke="#111" stroke-width="1.7"/>
<path d="M369.9 379.8 L369.9 384.1 A14.8 8.3 0 0 0 399.5 384.1 L399.5 379.8 Z" fill="#111" stroke="#111" stroke-width="1.7"/>
<ellipse cx="384.7" cy="379.8" rx="14.8" ry="8.3" fill="#fff" stroke="#111" stroke-width="1.79" />
<path d="M397.4 450.1 L397.4 506.4 A9.2 4.6 0 0 0 415.8 506.4 L415.8 450.1 Z" fill="#fff" stroke="#111" stroke-width="1.68"/>
<path d="M393.3 436.1 L393.3 450.1 A13.3 7 0 0 0 419.9 450.1 L419.9 436.1 Z" fill="#fff" stroke="#111" stroke-width="1.68"/>
<ellipse cx="406.6" cy="436.1" rx="13.3" ry="7" fill="#fff" stroke="#111" stroke-width="1.9" />
<ellipse cx="406.6" cy="436.6" rx="9.6" ry="4.8" fill="none" stroke="#111" stroke-width="2.02" />
<path d="M401 434.3 L401 439.5 L404.6 440.9 L410.2 440.3 L412.4 438.7 L412.4 434.1 M404.6 440.9 L404.6 435.3 M410.2 440.3 L410.2 434.9" fill="none" stroke="#111" stroke-width="1.4"/>
<path d="M391.6 419.4 A14.6 7.9 0 1 0 420.8 419.4 A14.6 7.9 0 1 0 391.6 419.4 Z M393.9 419.4 A12.3 6.1 0 1 0 418.5 419.4 A12.3 6.1 0 1 0 393.9 419.4 Z" fill="#fff" fill-rule="evenodd" stroke="#111" stroke-width="1.7"/>
<path d="M391.4 400.6 L391.4 404.9 A14.8 8.3 0 0 0 421 404.9 L421 400.6 Z" fill="#111" stroke="#111" stroke-width="1.7"/>
<ellipse cx="406.2" cy="400.6" rx="14.8" ry="8.3" fill="#fff" stroke="#111" stroke-width="1.79" />
<path d="M356.6 462.5 L361 462.5 M358.8 460.3 L358.8 464.7 M357.2 460.9 L360.4 464.1 M357.2 464.1 L360.4 460.9" stroke="#aaa" stroke-width="0.7" fill="none"/>
<path d="M357.9 481.7 A9.0 5.0 0 0 0 373.9 481" stroke="#bbb" stroke-width="0.9" fill="none"/>
<path d="M356.4 468.5 L356.4 479.5 A9.0 5.0 0 0 0 374.4 479.5 L374.4 468.5 Z" fill="#111" stroke="#111" stroke-width="1.2"/>
<ellipse cx="365.4" cy="468.5" rx="9" ry="5" fill="#111" stroke="#111" stroke-width="1.34" />
<path d="M357.4 471.5 A8.0 4.4 0 0 0 373.4 471.5" fill="none" stroke="#777" stroke-width="0.6"/>
<path d="M357.4 474.2 A8.0 4.4 0 0 0 373.4 474.2" fill="none" stroke="#777" stroke-width="0.6"/>
<path d="M357.4 476.9 A8.0 4.4 0 0 0 373.4 476.9" fill="none" stroke="#777" stroke-width="0.6"/>
<path d="M357.4 479.6 A8.0 4.4 0 0 0 373.4 479.6" fill="none" stroke="#777" stroke-width="0.6"/>
<path d="M359.8 467.3 L365.9 470.7 M364.6 465.5 L371 469.3" stroke="#fff" stroke-width="1.5" fill="none" stroke-linecap="round"/>
<path d="M398.3 493.1 L398.3 503.1 A2.9 1.5 0 0 0 404.1 503.1 L404.1 493.1 Z" fill="#fff" stroke="#111" stroke-width="1.46"/>
<path d="M396.6 486.6 L396.6 492.6 A4.6 2.4 0 0 0 405.8 492.6 L405.8 486.6 Z" fill="#111" stroke="#111" stroke-width="1.1"/>
<ellipse cx="401.2" cy="486.6" rx="4.6" ry="2.4" fill="#111" stroke="#111" stroke-width="1.1" />
<ellipse cx="401.2" cy="486.6" rx="2.6" ry="1.2" fill="#111" stroke="#bbb" stroke-width="0.7" />
<path d="M238.1 476.6 L238.1 531 A9.2 4.6 0 0 0 256.5 531 L256.5 476.6 Z" fill="#fff" stroke="#111" stroke-width="1.68"/>
<path d="M234 462.6 L234 476.6 A13.3 7 0 0 0 260.6 476.6 L260.6 462.6 Z" fill="#fff" stroke="#111" stroke-width="1.68"/>
<ellipse cx="247.3" cy="462.6" rx="13.3" ry="7" fill="#fff" stroke="#111" stroke-width="1.9" />
<ellipse cx="247.3" cy="463.1" rx="9.6" ry="4.8" fill="none" stroke="#111" stroke-width="2.02" />
<path d="M241.7 460.8 L241.7 466 L245.3 467.4 L250.9 466.8 L253.1 465.2 L253.1 460.6 M245.3 467.4 L245.3 461.8 M250.9 466.8 L250.9 461.4" fill="none" stroke="#111" stroke-width="1.4"/>
<path d="M232.5 443.6 A14.6 7.9 0 1 0 261.7 443.6 A14.6 7.9 0 1 0 232.5 443.6 Z M234.8 443.6 A12.3 6.1 0 1 0 259.4 443.6 A12.3 6.1 0 1 0 234.8 443.6 Z" fill="#fff" fill-rule="evenodd" stroke="#111" stroke-width="1.7"/>
<path d="M232.3 424.9 L232.3 429.2 A14.8 8.3 0 0 0 261.9 429.2 L261.9 424.9 Z" fill="#111" stroke="#111" stroke-width="1.7"/>
<ellipse cx="247.1" cy="424.9" rx="14.8" ry="8.3" fill="#fff" stroke="#111" stroke-width="1.79" />
<path d="M254.4 466 A14.6 7.9 0 1 0 283.6 466 A14.6 7.9 0 1 0 254.4 466 Z M256.7 466 A12.3 6.1 0 1 0 281.3 466 A12.3 6.1 0 1 0 256.7 466 Z" fill="#fff" fill-rule="evenodd" stroke="#111" stroke-width="1.7"/>
<path d="M254.2 447 L254.2 451.3 A14.8 8.3 0 0 0 283.8 451.3 L283.8 447 Z" fill="#111" stroke="#111" stroke-width="1.7"/>
<ellipse cx="269" cy="447" rx="14.8" ry="8.3" fill="#fff" stroke="#111" stroke-width="1.79" />
<path d="M375.5 496.5 L375.5 551.9 A9.2 4.6 0 0 0 393.9 551.9 L393.9 496.5 Z" fill="#fff" stroke="#111" stroke-width="1.68"/>
<path d="M371.4 482.5 L371.4 496.5 A13.3 7 0 0 0 398 496.5 L398 482.5 Z" fill="#fff" stroke="#111" stroke-width="1.68"/>
<ellipse cx="384.7" cy="482.5" rx="13.3" ry="7" fill="#fff" stroke="#111" stroke-width="1.9" />
<ellipse cx="384.7" cy="483" rx="9.6" ry="4.8" fill="none" stroke="#111" stroke-width="2.02" />
<path d="M379.1 480.7 L379.1 485.9 L382.7 487.3 L388.3 486.7 L390.5 485.1 L390.5 480.5 M382.7 487.3 L382.7 481.7 M388.3 486.7 L388.3 481.3" fill="none" stroke="#111" stroke-width="1.4"/>
<path d="M370.1 465.9 A14.6 7.9 0 1 0 399.3 465.9 A14.6 7.9 0 1 0 370.1 465.9 Z M372.4 465.9 A12.3 6.1 0 1 0 397 465.9 A12.3 6.1 0 1 0 372.4 465.9 Z" fill="#fff" fill-rule="evenodd" stroke="#111" stroke-width="1.7"/>
<path d="M369.5 447.6 L369.5 451.9 A14.8 8.3 0 0 0 399.1 451.9 L399.1 447.6 Z" fill="#111" stroke="#111" stroke-width="1.7"/>
<ellipse cx="384.3" cy="447.6" rx="14.8" ry="8.3" fill="#fff" stroke="#111" stroke-width="1.79" />
<path d="M278.1 510.2 L282.5 510.2 M280.3 508 L280.3 512.4 M278.7 508.6 L281.9 511.8 M278.7 511.8 L281.9 508.6" stroke="#aaa" stroke-width="0.7" fill="none"/>
<path d="M279.4 529.4 A9.0 5.0 0 0 0 295.4 528.7" stroke="#bbb" stroke-width="0.9" fill="none"/>
<path d="M277.9 516.2 L277.9 527.2 A9.0 5.0 0 0 0 295.9 527.2 L295.9 516.2 Z" fill="#111" stroke="#111" stroke-width="1.2"/>
<ellipse cx="286.9" cy="516.2" rx="9" ry="5" fill="#111" stroke="#111" stroke-width="1.34" />
<path d="M278.9 519.2 A8.0 4.4 0 0 0 294.9 519.2" fill="none" stroke="#777" stroke-width="0.6"/>
<path d="M278.9 521.9 A8.0 4.4 0 0 0 294.9 521.9" fill="none" stroke="#777" stroke-width="0.6"/>
<path d="M278.9 524.6 A8.0 4.4 0 0 0 294.9 524.6" fill="none" stroke="#777" stroke-width="0.6"/>
<path d="M278.9 527.3 A8.0 4.4 0 0 0 294.9 527.3" fill="none" stroke="#777" stroke-width="0.6"/>
<path d="M281.3 515 L287.4 518.4 M286.1 513.2 L292.5 517" stroke="#fff" stroke-width="1.5" fill="none" stroke-linecap="round"/>
<path d="M296.6 509.5 L296.6 565.4 A9.2 4.6 0 0 0 315 565.4 L315 509.5 Z" fill="#fff" stroke="#111" stroke-width="1.68"/>
<path d="M292.5 495.5 L292.5 509.5 A13.3 7 0 0 0 319.1 509.5 L319.1 495.5 Z" fill="#fff" stroke="#111" stroke-width="1.68"/>
<ellipse cx="305.8" cy="495.5" rx="13.3" ry="7" fill="#fff" stroke="#111" stroke-width="1.9" />
<ellipse cx="305.8" cy="496" rx="9.6" ry="4.8" fill="none" stroke="#111" stroke-width="2.02" />
<path d="M300.2 493.7 L300.2 498.9 L303.8 500.3 L309.4 499.7 L311.6 498.1 L311.6 493.5 M303.8 500.3 L303.8 494.7 M309.4 499.7 L309.4 494.3" fill="none" stroke="#111" stroke-width="1.4"/>
<path d="M291.1 477.8 A14.6 7.9 0 1 0 320.3 477.8 A14.6 7.9 0 1 0 291.1 477.8 Z M293.4 477.8 A12.3 6.1 0 1 0 318 477.8 A12.3 6.1 0 1 0 293.4 477.8 Z" fill="#fff" fill-rule="evenodd" stroke="#111" stroke-width="1.7"/>
<path d="M290.8 458.5 L290.8 462.8 A14.8 8.3 0 0 0 320.4 462.8 L320.4 458.5 Z" fill="#111" stroke="#111" stroke-width="1.7"/>
<ellipse cx="305.6" cy="458.5" rx="14.8" ry="8.3" fill="#fff" stroke="#111" stroke-width="1.79" />
<path d="M359.1 515.1 L359.1 525.1 A2.9 1.5 0 0 0 364.9 525.1 L364.9 515.1 Z" fill="#fff" stroke="#111" stroke-width="1.46"/>
<path d="M357.4 508.6 L357.4 514.6 A4.6 2.4 0 0 0 366.6 514.6 L366.6 508.6 Z" fill="#111" stroke="#111" stroke-width="1.1"/>
<ellipse cx="362" cy="508.6" rx="4.6" ry="2.4" fill="#111" stroke="#111" stroke-width="1.1" />
<ellipse cx="362" cy="508.6" rx="2.6" ry="1.2" fill="#111" stroke="#bbb" stroke-width="0.7" />
<path d="M261.4 288.6 L261.4 322.9" fill="none" stroke="#111" stroke-width="1.1" />
<path d="M311.2 298.3 L311.2 313.3" fill="none" stroke="#111" stroke-width="1.1" />
<path d="M275.6 296.5 L275.6 343" fill="none" stroke="#111" stroke-width="1.1" />
<path d="M275.6 350 L275.6 578" fill="none" stroke="#111" stroke-width="1.1" stroke-dasharray="15 4.5" />
<path d="M293.5 307 L293.5 350.5" fill="none" stroke="#111" stroke-width="1.1" />
<path d="M293.5 356 L293.5 589" fill="none" stroke="#111" stroke-width="1.1" stroke-dasharray="15 4.5" />
<path d="M324.5 268 L324.5 549" fill="none" stroke="#111" stroke-width="1.1" stroke-dasharray="15 4.5" />
<path d="M343.6 278.2 L343.6 560" fill="none" stroke="#111" stroke-width="1.1" stroke-dasharray="15 4.5" />
<path d="M247.3 432 L247.3 466" fill="none" stroke="#111" stroke-width="1.1" />
<path d="M247.3 538 L247.3 597" fill="none" stroke="#111" stroke-width="1.1" stroke-dasharray="15 4.5" />
<path d="M268.8 386 L268.8 419" fill="none" stroke="#111" stroke-width="1.1" />
<path d="M268.8 454 L268.8 470" fill="none" stroke="#111" stroke-width="1.1" />
<path d="M268.8 492 L268.8 616" fill="none" stroke="#111" stroke-width="1.1" stroke-dasharray="15 4.5" />
<path d="M305.7 465 L305.7 499" fill="none" stroke="#111" stroke-width="1.1" />
<path d="M305.7 572 L305.7 633" fill="none" stroke="#111" stroke-width="1.1" stroke-dasharray="15 4.5" />
<path d="M347.9 375 L347.9 408" fill="none" stroke="#111" stroke-width="1.1" />
<path d="M347.9 479 L347.9 544" fill="none" stroke="#111" stroke-width="1.1" stroke-dasharray="15 4.5" />
<path d="M384.5 388 L384.5 438.5" fill="none" stroke="#111" stroke-width="1.1" />
<path d="M384.5 456 L384.5 485" fill="none" stroke="#111" stroke-width="1.1" />
<path d="M384.5 558 L384.5 618" fill="none" stroke="#111" stroke-width="1.1" stroke-dasharray="15 4.5" />
<path d="M406.3 408 L406.3 440" fill="none" stroke="#111" stroke-width="1.1" />
<path d="M406.3 513 L406.3 574" fill="none" stroke="#111" stroke-width="1.1" stroke-dasharray="15 4.5" />
<path d="M286.4 531 L286.4 602" fill="none" stroke="#111" stroke-width="1.1" stroke-dasharray="15 4.5" />
<path d="M366 486 L366 556.5" fill="none" stroke="#111" stroke-width="1.1" />
<path d="M362.4 526 L362.4 620" fill="none" stroke="#111" stroke-width="1.1" stroke-dasharray="15 4.5" />
<path d="M399.5 504 L399.5 598" fill="none" stroke="#111" stroke-width="1.1" />
<line x1="250.1" y1="107.1" x2="296.4" y2="136.9" stroke="#1a1a22" stroke-width="1.3"/>
<path d="M296.4 136.9 L274.8 128 L279.3 120.9 Z" fill="#1a1a28" stroke="none"/>
<line x1="309.2" y1="96.9" x2="330.2" y2="172.7" stroke="#1a1a22" stroke-width="1.3"/>
<path d="M330.2 172.7 L320 151.7 L328.1 149.4 Z" fill="#1a1a28" stroke="none"/>
<line x1="370" y1="117.1" x2="355.3" y2="173.2" stroke="#1a1a22" stroke-width="1.3"/>
<path d="M355.3 173.2 L357.1 149.9 L365.2 152 Z" fill="#1a1a28" stroke="none"/>
<line x1="433.9" y1="152.2" x2="385" y2="230.3" stroke="#1a1a22" stroke-width="1.3"/>
<path d="M385 230.3 L393.6 208.6 L400.8 213 Z" fill="#1a1a28" stroke="none"/>
<line x1="495.2" y1="185.7" x2="417" y2="247" stroke="#1a1a22" stroke-width="1.3"/>
<path d="M417 247 L432.5 229.5 L437.7 236.1 Z" fill="#1a1a28" stroke="none"/>
<line x1="567" y1="229.6" x2="499.5" y2="284" stroke="#1a1a22" stroke-width="1.3"/>
<path d="M499.5 284 L514.8 266.3 L520 272.8 Z" fill="#1a1a28" stroke="none"/>
<line x1="649.4" y1="290.7" x2="606" y2="354" stroke="#1a1a22" stroke-width="1.3"/>
<path d="M606 354 L615.5 332.7 L622.5 337.4 Z" fill="#1a1a28" stroke="none"/>
<line x1="704.7" y1="337.5" x2="638.1" y2="374.1" stroke="#1a1a22" stroke-width="1.3"/>
<path d="M638.1 374.1 L656.2 359.3 L660.3 366.7 Z" fill="#1a1a28" stroke="none"/>
<line x1="760.3" y1="405.1" x2="720.2" y2="431.4" stroke="#1a1a22" stroke-width="1.3"/>
<path d="M720.2 431.4 L737.1 415.3 L741.7 422.3 Z" fill="#1a1a28" stroke="none"/>
<line x1="598.5" y1="444.5" x2="537" y2="391" stroke="#1a1a22" stroke-width="1.3"/>
<path d="M537 391 L557.1 402.9 L551.6 409.3 Z" fill="#1a1a28" stroke="none"/>
<line x1="534.4" y1="448.8" x2="514.2" y2="390.8" stroke="#1a1a22" stroke-width="1.3"/>
<path d="M514.2 390.8 L525.7 411.1 L517.8 413.9 Z" fill="#1a1a28" stroke="none"/>
<line x1="480.1" y1="557.7" x2="403.8" y2="501.4" stroke="#1a1a22" stroke-width="1.3"/>
<path d="M403.8 501.4 L424.8 511.7 L419.8 518.4 Z" fill="#1a1a28" stroke="none"/>
<line x1="504.4" y1="644.3" x2="431.3" y2="596.3" stroke="#1a1a22" stroke-width="1.3"/>
<path d="M431.3 596.3 L452.8 605.4 L448.2 612.4 Z" fill="#1a1a28" stroke="none"/>
<line x1="439.3" y1="717.6" x2="352" y2="717" stroke="#1a1a22" stroke-width="1.3"/>
<path d="M352 717 L375 713 L375 721.4 Z" fill="#1a1a28" stroke="none"/>
<line x1="198.9" y1="238" x2="257.3" y2="217.5" stroke="#1a1a22" stroke-width="1.3"/>
<path d="M257.3 217.5 L237 229.1 L234.2 221.2 Z" fill="#1a1a28" stroke="none"/>
<line x1="166.6" y1="321.4" x2="255.3" y2="339.7" stroke="#1a1a22" stroke-width="1.3"/>
<path d="M255.3 339.7 L231.9 339.2 L233.6 330.9 Z" fill="#1a1a28" stroke="none"/>
<line x1="143.1" y1="395.2" x2="234" y2="423" stroke="#1a1a22" stroke-width="1.3"/>
<path d="M234 423 L210.8 420.3 L213.2 412.3 Z" fill="#1a1a28" stroke="none"/>
<line x1="130.1" y1="454.6" x2="233.2" y2="445.1" stroke="#1a1a22" stroke-width="1.3"/>
<path d="M233.2 445.1 L210.7 451.4 L209.9 443 Z" fill="#1a1a28" stroke="none"/>
<line x1="148.9" y1="524.4" x2="238.5" y2="505.1" stroke="#1a1a22" stroke-width="1.3"/>
<path d="M238.5 505.1 L216.9 514 L215.1 505.8 Z" fill="#1a1a28" stroke="none"/>
<line x1="196.4" y1="568.2" x2="278.5" y2="524.4" stroke="#1a1a22" stroke-width="1.3"/>
<path d="M278.5 524.4 L260.2 538.9 L256.2 531.5 Z" fill="#1a1a28" stroke="none"/>
<circle cx="220.7" cy="87.2" r="35.2" fill="#fff" stroke="#1a1a22" stroke-width="1.3"/>
<text x="221.5" y="96.2" font-size="31.5" text-anchor="middle" fill="#14141e">15</text>
<circle cx="299.9" cy="62.1" r="35.2" fill="#fff" stroke="#1a1a22" stroke-width="1.3"/>
<text x="300.7" y="71.1" font-size="31.5" text-anchor="middle" fill="#14141e">18</text>
<circle cx="379.4" cy="82.6" r="35.2" fill="#fff" stroke="#1a1a22" stroke-width="1.3"/>
<text x="380.2" y="91.6" font-size="31.5" text-anchor="middle" fill="#14141e">3</text>
<circle cx="452.5" cy="121" r="35.2" fill="#fff" stroke="#1a1a22" stroke-width="1.3"/>
<text x="453.3" y="130" font-size="31.5" text-anchor="middle" fill="#14141e">10</text>
<circle cx="523.6" cy="163.4" r="35.2" fill="#fff" stroke="#1a1a22" stroke-width="1.3"/>
<text x="524.4" y="172.4" font-size="31.5" text-anchor="middle" fill="#14141e">6</text>
<circle cx="595.1" cy="206.3" r="35.2" fill="#fff" stroke="#1a1a22" stroke-width="1.3"/>
<text x="595.9" y="215.3" font-size="31.5" text-anchor="middle" fill="#14141e">2</text>
<circle cx="669.8" cy="260.1" r="35.2" fill="#fff" stroke="#1a1a22" stroke-width="1.3"/>
<text x="670.6" y="269.1" font-size="31.5" text-anchor="middle" fill="#14141e">7</text>
<circle cx="737.2" cy="319.5" r="35.2" fill="#fff" stroke="#1a1a22" stroke-width="1.3"/>
<text x="738" y="328.5" font-size="31.5" text-anchor="middle" fill="#14141e">8</text>
<circle cx="790.8" cy="385" r="35.2" fill="#fff" stroke="#1a1a22" stroke-width="1.3"/>
<text x="791.6" y="394" font-size="31.5" text-anchor="middle" fill="#14141e">4</text>
<circle cx="625.3" cy="467.8" r="35.2" fill="#fff" stroke="#1a1a22" stroke-width="1.3"/>
<text x="626.1" y="476.8" font-size="31.5" text-anchor="middle" fill="#14141e">16</text>
<circle cx="545.9" cy="482.6" r="35.2" fill="#fff" stroke="#1a1a22" stroke-width="1.3"/>
<text x="546.7" y="491.6" font-size="31.5" text-anchor="middle" fill="#14141e">5</text>
<circle cx="507.8" cy="578.8" r="35.2" fill="#fff" stroke="#1a1a22" stroke-width="1.3"/>
<text x="508.6" y="587.8" font-size="31.5" text-anchor="middle" fill="#14141e">12</text>
<circle cx="534.3" cy="664" r="35.2" fill="#fff" stroke="#1a1a22" stroke-width="1.3"/>
<text x="535.1" y="673" font-size="31.5" text-anchor="middle" fill="#14141e">1</text>
<circle cx="474.5" cy="717.8" r="35.2" fill="#fff" stroke="#1a1a22" stroke-width="1.3"/>
<text x="475.3" y="726.8" font-size="31.5" text-anchor="middle" fill="#14141e">14</text>
<circle cx="165" cy="250.1" r="35.2" fill="#fff" stroke="#1a1a22" stroke-width="1.3"/>
<text x="165.8" y="259.1" font-size="31.5" text-anchor="middle" fill="#14141e">19</text>
<circle cx="131.4" cy="313.4" r="35.2" fill="#fff" stroke="#1a1a22" stroke-width="1.3"/>
<text x="132.2" y="322.4" font-size="31.5" text-anchor="middle" fill="#14141e">11</text>
<circle cx="109.2" cy="384.8" r="35.2" fill="#fff" stroke="#1a1a22" stroke-width="1.3"/>
<text x="110" y="393.8" font-size="31.5" text-anchor="middle" fill="#14141e">9</text>
<circle cx="95.1" cy="458.3" r="35.2" fill="#fff" stroke="#1a1a22" stroke-width="1.3"/>
<text x="95.9" y="467.3" font-size="31.5" text-anchor="middle" fill="#14141e">20</text>
<circle cx="114.1" cy="531.7" r="35.2" fill="#fff" stroke="#1a1a22" stroke-width="1.3"/>
<text x="114.9" y="540.7" font-size="31.5" text-anchor="middle" fill="#14141e">13</text>
<circle cx="164.9" cy="585.9" r="35.2" fill="#fff" stroke="#1a1a22" stroke-width="1.3"/>
<text x="165.7" y="594.9" font-size="31.5" text-anchor="middle" fill="#14141e">17</text>
</svg>
</body></html>
